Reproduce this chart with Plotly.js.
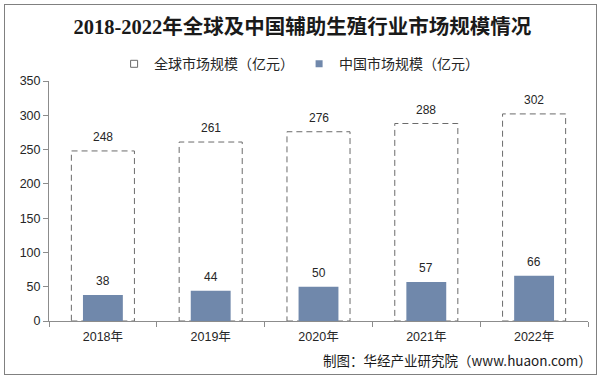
<!DOCTYPE html>
<html>
<head>
<meta charset="utf-8">
<script src="https://cdn.plot.ly/plotly-3.0.1.min.js"></script>
<style>
html,body{margin:0;padding:0;background:#fff;}
#wrap{position:relative;width:601px;height:380px;}
#chart{width:601px;height:380px;}
#frame{position:absolute;left:4px;top:4px;width:591px;height:369px;border:1px solid #808080;pointer-events:none;}
</style>
</head>
<body>
<div id="wrap"><div id="chart"></div><div id="frame"></div></div>
<script>
const years = ['2018年','2019年','2020年','2021年','2022年'];
const globalSize = [248, 261, 276, 288, 302];
const chinaSize = [38, 44, 50, 57, 66];
const globalName = '全球市场规模（亿元）';
const chinaName = '中国市场规模（亿元）';
const titleText = '2018-2022年全球及中国辅助生殖行业市场规模情况';
const sourceText = '制图：华经产业研究院（www.huaon.com）';

const sans = 'Liberation Sans, Arial, Noto Sans CJK SC, sans-serif';
const cjk = 'Noto Sans CJK SC, Liberation Sans, sans-serif';
const gw = 0.585, cw = 0.37;
const dashColor = '#6b6b6b';
const chinaColor = '#7088ab';

const shapes = globalSize.map((v, i) => ({
  type: 'rect', xref: 'x', yref: 'y', layer: 'below',
  x0: i - gw / 2, x1: i + gw / 2, y0: 0, y1: v,
  line: {color: dashColor, width: 1, dash: '6px,4px'},
  fillcolor: 'rgba(0,0,0,0)'
}));

function valueLabels(vals) {
  return vals.map((v, i) => ({
    x: years[i], y: v, xref: 'x', yref: 'y', text: String(v),
    showarrow: false, yanchor: 'bottom', yshift: 5,
    font: {family: sans, size: 12, color: '#262626'}
  }));
}

const traces = [
  {
    type: 'bar', x: years, y: globalSize, width: gw,
    marker: {color: 'rgba(0,0,0,0)', line: {width: 0}},
    showlegend: false, name: globalName
  },
  {
    type: 'bar', x: years, y: chinaSize, width: cw,
    marker: {color: chinaColor},
    showlegend: false, name: chinaName
  },
  {
    type: 'scatter', mode: 'markers', x: [null], y: [null], name: globalName,
    marker: {symbol: 'square-open', size: 7, color: dashColor, line: {width: 1, color: dashColor}},
    showlegend: true
  },
  {
    type: 'scatter', mode: 'markers', x: [null], y: [null], name: chinaName,
    marker: {symbol: 'square', size: 7, color: chinaColor},
    showlegend: true
  }
];

const layout = {
  width: 601, height: 380,
  margin: {l: 49, r: 13, t: 81, b: 59, pad: 0, autoexpand: false},
  paper_bgcolor: '#fff', plot_bgcolor: '#fff',
  barmode: 'overlay',
  title: {
    text: '<b>' + titleText + '</b>',
    font: {family: 'Liberation Serif, Noto Sans CJK SC, serif', size: 20.5, color: '#1a1a1a'},
    x: 0.503, xref: 'container', xanchor: 'center',
    y: 0.929, yref: 'container', yanchor: 'middle'
  },
  showlegend: true,
  legend: {
    orientation: 'h', x: 0.464, xanchor: 'center', y: 1.07, yanchor: 'middle',
    font: {family: cjk, size: 14, color: '#262626'},
    traceorder: 'normal', bgcolor: 'rgba(0,0,0,0)'
  },
  xaxis: {
    type: 'category', range: [-0.5, 4.5],
    showline: true, linecolor: '#8c8c8c', linewidth: 1,
    ticks: 'outside', tickson: 'boundaries', ticklen: 5, tickcolor: '#8c8c8c',
    showgrid: false, zeroline: false, ticklabelstandoff: 4,
    tickfont: {family: sans, size: 12.5, color: '#262626'},
    fixedrange: true
  },
  yaxis: {
    range: [0, 350], dtick: 50, tick0: 0,
    showline: true, linecolor: '#8c8c8c', linewidth: 1,
    ticks: 'outside', ticklen: 5, tickcolor: '#8c8c8c',
    showgrid: false, zeroline: false,
    tickfont: {family: sans, size: 12.5, color: '#262626'},
    fixedrange: true
  },
  shapes: shapes,
  annotations: valueLabels(globalSize).concat(valueLabels(chinaSize)).concat([{
    text: sourceText, xref: 'paper', yref: 'paper',
    x: 1.012, xanchor: 'right', y: -0.1625, yanchor: 'middle',
    showarrow: false,
    font: {family: cjk, size: 13.5, color: '#1a1a1a'}
  }])
};

Plotly.newPlot('chart', traces, layout, {displayModeBar: false, staticPlot: true});
</script>
</body>
</html>
